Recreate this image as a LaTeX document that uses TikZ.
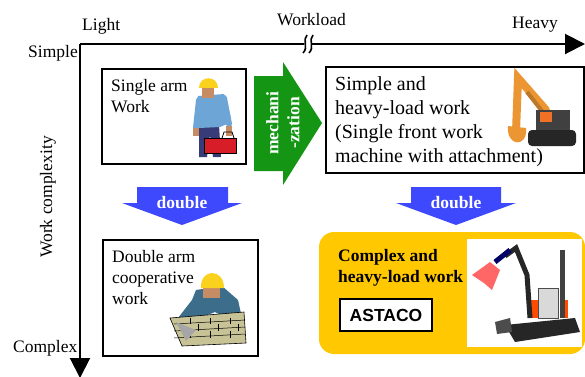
\documentclass[tikz,border=0pt]{standalone}
\usepackage{fontspec}
\setmainfont{Liberation Serif}
\newfontfamily\arialfont{Liberation Sans}
\usetikzlibrary{arrows.meta}
\definecolor{mechgreen}{RGB}{20,150,20}
\definecolor{dblue}{RGB}{62,72,252}
\definecolor{astyellow}{RGB}{255,200,0}
\definecolor{helmet}{RGB}{250,210,30}
\definecolor{shirt}{RGB}{110,165,215}
\definecolor{pants}{RGB}{55,60,120}
\definecolor{tbox}{RGB}{215,30,40}
\definecolor{skin}{RGB}{200,140,100}
\definecolor{teal}{RGB}{60,110,140}
\definecolor{brick}{RGB}{200,195,150}
\definecolor{excor}{RGB}{235,150,50}
\tikzset{
  axis/.style={line width=2pt,-{Triangle[length=20pt,width=20pt]}},
  workbox/.style={draw=black,line width=2pt,fill=white},
  lbl/.style={font=\fontsize{17.5}{21}\selectfont,inner sep=0pt},
  boxtext/.style={font=\fontsize{17.5}{21}\selectfont,inner sep=0pt,align=left,anchor=north west},
  bigtext/.style={font=\fontsize{20}{24.2}\selectfont,inner sep=0pt,align=left,anchor=north west},
  arrtext/.style={font=\bfseries\fontsize{17.5}{21}\selectfont,text=white,inner sep=0pt},
}
\begin{document}
\begin{tikzpicture}[x=1pt,y=-1pt]
\useasboundingbox (0,0) rectangle (585,376);
% axes
\coordinate (O) at (80,44);
\coordinate (xend) at (585,44);
\coordinate (yend) at (80,378);
\draw[axis] (O) -- (xend);
\draw[axis] (O) -- (yend);
% break mark
\fill[white] (305,38) -- (312,38) -- (311,50) -- (304,50) -- cycle;
\draw[line width=1.6pt] (307,35) .. controls (302,40) and (309,47) .. (303,53);
\draw[line width=1.6pt] (313,35) .. controls (308,40) and (315,47) .. (309,53);
% axis labels
\node[lbl,anchor=base west] (light) at (82,30) {Light};
\node[lbl,anchor=base west] (workload) at (277,25) {Workload};
\node[lbl,anchor=base west] (heavy) at (512,28) {Heavy};
\node[lbl,anchor=base east] (simple) at (78,57) {Simple};
\node[lbl,anchor=base west] (complex) at (13,352) {Complex};
\node[lbl,rotate=90] (wc) at (48,197) {Work complexity};
% box 1
\draw[workbox] (102,69) rectangle (246,164);
\node[boxtext] (t1) at (111,79) {Single arm\\Work};
% worker 1
\fill[pants] (199,125) -- (219,125) -- (221,157) -- (213,157) -- (210,135) -- (207,157) -- (199,157) -- cycle;
\fill[shirt] (198,96) -- (224,94) -- (231,118) -- (227,124) -- (220,127) -- (199,128) -- (195,118) -- cycle;
\draw[shirt,line width=6pt,line cap=round] (199,100) -- (196,128);
\draw[shirt,line width=6pt,line cap=round] (224,98) -- (229,124);
\fill[skin] (193,128) rectangle (199,136);
\fill[skin] (226,126) rectangle (232,136);
\fill[skin] (202,86) rectangle (214,98);
\fill[helmet] (199,88) .. controls (199,75) and (218,75) .. (218,88) -- cycle;
\fill[tbox] (204,138) rectangle (236,153);
\draw[black,line width=0.8pt] (204,138) rectangle (236,153);
\draw[black,line width=0.8pt] (222,138) -- (224,132) -- (232,132) -- (234,138);
% green arrow
\fill[mechgreen] (254,76) -- (283,76) -- (283,62) -- (322,123) -- (283,185) -- (283,171) -- (254,171) -- cycle;
\node[arrtext,rotate=90,align=center] (mech) at (283,123) {mechani\\-zation};
% box 2
\draw[workbox] (326,67) rectangle (584,173);
\node[bigtext] (t2) at (335,76) {Simple and\\heavy-load work\\(Single front work\\machine with attachment)};
% excavator
\draw[excor,line width=8pt,line cap=round] (516,132) -- (518,78) -- (546,110);
\draw[excor!80!black,line width=4pt] (527,92) -- (545,115);
\fill[excor] (508,126) .. controls (506,147) and (528,148) .. (526,128) -- cycle;
\fill[black!75] (536,110) rectangle (570,130);
\fill[black!85,rounded corners=4pt] (528,130) rectangle (576,146);
\fill[excor!75!red] (540,112) rectangle (552,122);
% blue arrows
\fill[dblue] (137,187) -- (228,187) -- (228,203) -- (242,203) -- (182,225) -- (122,203) -- (137,203) -- cycle;
\node[arrtext,anchor=base] (d1) at (182,208) {double};
\fill[dblue] (411,187) -- (501,187) -- (501,203) -- (516,203) -- (456,225) -- (396,203) -- (411,203) -- cycle;
\node[arrtext,anchor=base] (d2) at (456,208) {double};
% box 3
\draw[workbox] (103,240) rectangle (258,356);
\node[boxtext] (t3) at (112,250) {Double arm\\cooperative\\work};
% worker 2
\fill[teal] (196,290) -- (222,286) -- (238,300) -- (242,318) -- (230,320) -- (215,312) -- (190,322) -- (178,318) -- (192,300) -- cycle;
\fill[skin] (203,282) rectangle (220,298);
\fill[helmet] (201,288) .. controls (200,268) and (224,268) .. (224,288) -- cycle;
\fill[brick] (170,318) -- (244,312) -- (246,343) -- (182,346) -- cycle;
\draw[black,line width=0.6pt] (170,318) -- (244,312) -- (246,343) -- (182,346) -- cycle;
\foreach \yy in {324,331,338} \draw[black,line width=0.5pt] (174,\yy) -- (245,\yy-4);
\foreach \xx in {190,210,230} \draw[black,line width=0.5pt] (\xx,318) -- (\xx,324) (\xx+8,324) -- (\xx+8,331) (\xx,331) -- (\xx,338);
\fill[black!35] (176,322) -- (196,330) -- (186,341) -- cycle;
% yellow box
\fill[astyellow,rounded corners=15pt] (319,232) rectangle (585,354);
\node[font=\bfseries\fontsize{17.5}{21}\selectfont,inner sep=0pt,align=left,anchor=north west] (t4) at (338,249) {Complex and\\heavy-load work};
\draw[workbox] (340,299) rectangle (432,331);
\node[font=\arialfont\bfseries\fontsize{17.5}{21}\selectfont,inner sep=0pt] (astaco) at (386,315) {ASTACO};
% ASTACO picture
\fill[white] (467,239) rectangle (582,347);
\fill[black!85] (505,325) -- (575,318) -- (580,332) -- (515,342) -- cycle;
\fill[black!70] (495,322) -- (510,318) -- (512,332) -- (497,334) -- cycle;
\fill[black!15] (538,288) rectangle (558,318);
\draw[black!70,line width=1pt] (538,288) rectangle (558,318);
\fill[orange!60!red] (530,300) rectangle (538,318);
\fill[orange!60!red] (560,300) rectangle (568,318);
\draw[black!85,line width=5pt] (530,318) -- (527,275) -- (516,248) -- (505,256);
\draw[blue!40!black,line width=5pt] (510,250) -- (495,262);
\draw[black!75,line width=5pt] (562,318) -- (562,250);
\fill[red!60] (472,275) -- (490,262) -- (500,270) -- (492,290) -- (484,283) -- cycle;
\end{tikzpicture}
\end{document}
